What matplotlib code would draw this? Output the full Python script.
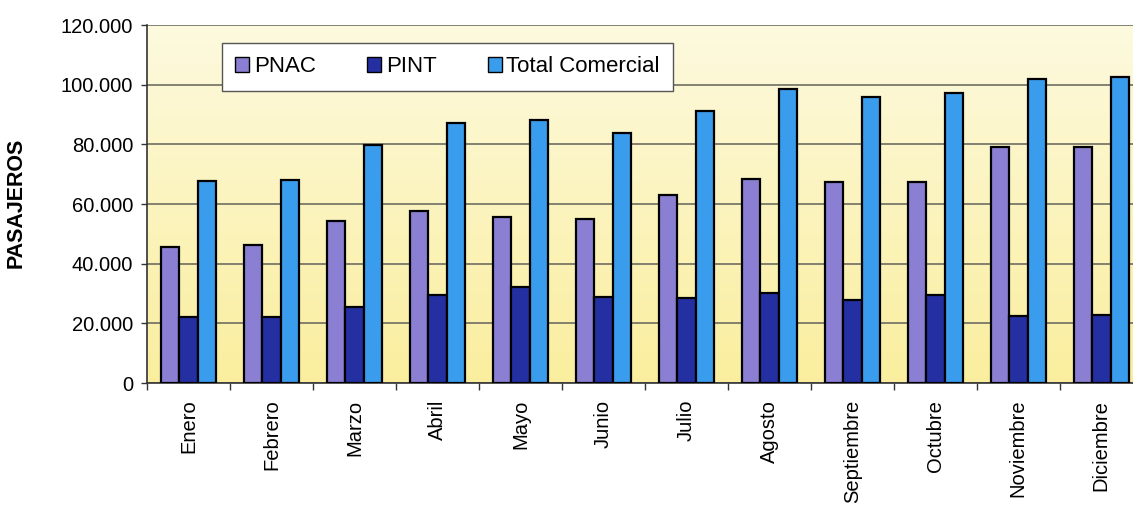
import numpy as np
import matplotlib.pyplot as plt
from matplotlib.colors import LinearSegmentedColormap
from matplotlib.ticker import FuncFormatter, FixedLocator

plt.rcParams['font.family'] = ['Liberation Sans', 'DejaVu Sans']

meses = ['Enero', 'Febrero', 'Marzo', 'Abril', 'Mayo', 'Junio', 'Julio',
         'Agosto', 'Septiembre', 'Octubre', 'Noviembre', 'Diciembre']
pnac = [45700, 46200, 54200, 57600, 55800, 55100, 62900, 68300, 67400, 67400, 79000, 79000]
pint = [22000, 22000, 25400, 29400, 32300, 28700, 28500, 30100, 27800, 29400, 22500, 22900]
total = [67600, 68000, 79700, 87000, 88200, 83900, 91300, 98700, 95800, 97300, 101800, 102500]
series = ['PNAC', 'PINT', 'Total Comercial']
colores = ['#8a7fd2', '#2430a2', '#3a9cec']

fig = plt.figure(figsize=(11.33, 5.09), dpi=100)
ax = fig.add_axes([0.1297, 0.2475, 0.879, 0.7033])

# fondo degradado del area de trazado
fondo = LinearSegmentedColormap.from_list('fondo', ['#faee9e', '#fdfadf'])
ax.imshow(np.linspace(0, 1, 256).reshape(-1, 1), cmap=fondo, aspect='auto',
          extent=[0, 1, 0, 1], transform=ax.transAxes, origin='lower', zorder=0)

x = np.arange(len(meses))
ancho = 1 / 4.5
for i, (datos, nombre, color) in enumerate(zip([pnac, pint, total], series, colores)):
    ax.bar(x + (i - 1) * ancho, datos, ancho, color=color, edgecolor='black',
           linewidth=1.6, label=nombre, zorder=3)

ax.set_xlim(-0.5, len(meses) - 0.5)
ax.set_ylim(0, 120000)
ax.set_yticks(np.arange(0, 120001, 20000))
ax.yaxis.set_major_formatter(FuncFormatter(lambda v, p: f'{int(v):,}'.replace(',', '.')))
ax.grid(axis='y', color='#6e6e62', linewidth=1.2, zorder=1)
ax.set_axisbelow(True)

ax.set_xticks(x)
ax.set_xticklabels(meses, rotation=90, va='top', ha='center')
ax.xaxis.set_minor_locator(FixedLocator(np.arange(-0.5, len(meses), 1)))
ax.tick_params(axis='x', which='major', length=0, pad=12, labelsize=14.5)
ax.tick_params(axis='x', which='minor', length=5, width=1, color='#333333')
ax.tick_params(axis='y', length=4, width=1, labelsize=14.5, pad=6, color='#333333')

for lado in ['top', 'right']:
    ax.spines[lado].set_visible(False)
ax.spines['left'].set_color('#333333')
ax.spines['bottom'].set_color('#333333')
ax.spines['left'].set_linewidth(1.2)
ax.spines['bottom'].set_linewidth(1.2)

ax.set_ylabel('PASAJEROS', fontsize=15.5, fontweight='bold')
ax.yaxis.set_label_coords(-0.1205, 0.503)

leg = ax.legend(loc='upper left', bbox_to_anchor=(0.075, 0.95), ncol=3,
                fontsize=16, frameon=True, fancybox=False, handlelength=0.65,
                handleheight=0.65, handletextpad=0.2, columnspacing=2.3,
                borderpad=0.6, borderaxespad=0)
leg.get_frame().set_edgecolor('#555555')
leg.get_frame().set_linewidth(1.0)
leg.get_frame().set_facecolor('white')
leg.get_frame().set_alpha(1)
for h in leg.legend_handles:
    h.set_linewidth(1.0)
leg.set_zorder(5)

fig.savefig('out.png', dpi=100)
